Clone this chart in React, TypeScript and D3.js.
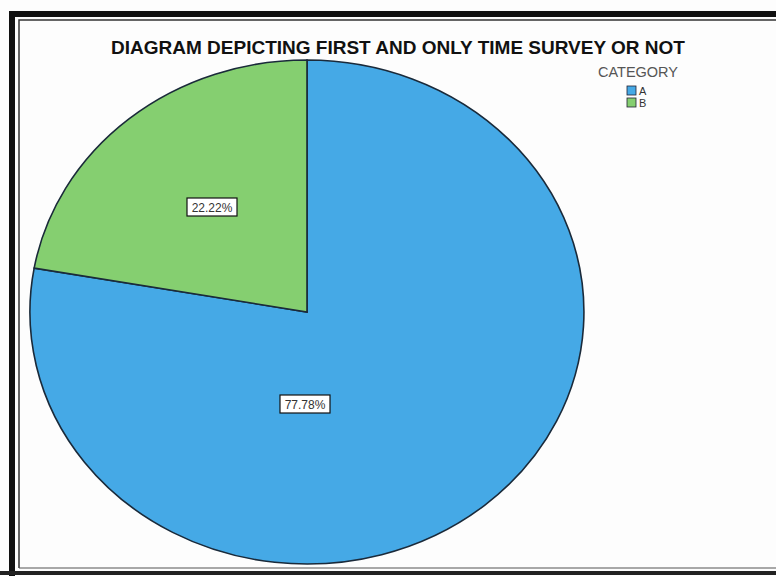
import React from "react";
import * as d3 from "d3";

const categories = ["A", "B"];
const percents = [77.78, 22.22];
const colors = ["#45a9e6", "#85cf70"];
const titleText = "DIAGRAM DEPICTING FIRST AND ONLY TIME SURVEY OR NOT";
const legendTitle = "CATEGORY";

export default function App() {
  const W = 776, H = 576;
  const cx = 307, cy = 312, rx = 277, ry = 252;
  const data = categories.map((c, i) => ({ c, v: percents[i], col: colors[i] }));
  const pie = d3.pie<any>().sort(null).value((d) => d.v);
  const arcs = pie(data);
  const arc = d3.arc<any>().innerRadius(0).outerRadius(1);
  return (
    <svg width={W} height={H} style={{ position: "absolute", left: 0, top: 0, background: "#fff" }}>
      <rect x={0} y={0} width={W} height={H} fill="#fdfdfd" />
      <path d={`M12,${H} L12,14 L${W},14`} fill="none" stroke="#111" strokeWidth={6} />
      <line x1={0} x2={W} y1={573} y2={573} stroke="#222" strokeWidth={4} />
      <path d={`M19,568 L19,20 L${W},20`} fill="none" stroke="#333" strokeWidth={1.5} />
      <line x1={19} x2={W} y1={568} y2={568} stroke="#555" strokeWidth={1.2} />
      <text x={398} y={54} textAnchor="middle" fontFamily="Liberation Sans, Arial, sans-serif" fontWeight="bold" fontSize={19} fill="#111">
        {titleText}
      </text>
      <g transform={`translate(${cx},${cy}) scale(${rx},${ry})`}>
        {arcs.map((a, i) => (
          <path key={i} d={arc(a) as string} fill={a.data.col} stroke="#1a2a3a" strokeWidth={1.6} vectorEffect="non-scaling-stroke" />
        ))}
      </g>
      {arcs.map((a, i) => {
        const [x, y] = a.data.c === "A" ? [305, 404] : [212, 207];
        const t = a.data.v.toFixed(2) + "%";
        return (
          <g key={"l" + i}>
            <rect x={x - 25} y={y - 9} width={50} height={18} fill="#fff" stroke="#111" strokeWidth={1.2} />
            <text x={x} y={y + 4.5} textAnchor="middle" fontFamily="Liberation Sans, Arial, sans-serif" fontSize={12} fill="#333">{t}</text>
          </g>
        );
      })}
      <text x={638} y={77} textAnchor="middle" fontFamily="Liberation Sans, Arial, sans-serif" fontSize={14.5} fill="#555">{legendTitle}</text>
      {categories.map((c, i) => (
        <g key={"lg" + i}>
          <rect x={627} y={86 + i * 12} width={9} height={9} fill={colors[i]} stroke="#223" strokeWidth={0.8} />
          <text x={639} y={94.5 + i * 12} fontFamily="Liberation Sans, Arial, sans-serif" fontSize={11} fill="#333">{c}</text>
        </g>
      ))}
    </svg>
  );
}
